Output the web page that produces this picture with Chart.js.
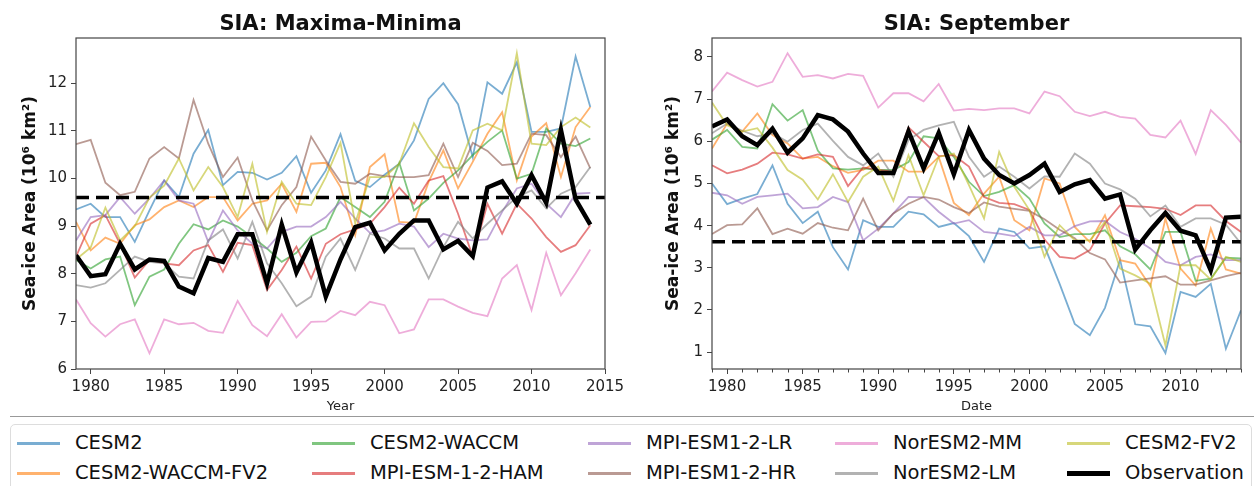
<!DOCTYPE html>
<html>
<head>
<meta charset="utf-8">
<script src="https://cdn.jsdelivr.net/npm/chart.js@4.4.1/dist/chart.umd.min.js"></script>
<style>
  body { margin: 0; background: #fff; font-family: "DejaVu Sans", sans-serif; }
  #wrap { position: relative; width: 1254px; height: 486px; overflow: hidden; }
  canvas { position: absolute; top: 0; }
  .title { position: absolute; top: 10px; font-weight: bold; font-size: 21px; line-height: 26px; text-align: center; color: #111; }
  #sep { position: absolute; left: 10px; right: 0; top: 416px; border-top: 1px solid #999; }
  #legend { position: absolute; left: 10px; top: 424px; width: 1240px; height: 80px; border: 1px solid #ddd; border-radius: 5px; }
  .item { position: absolute; font-size: 19.5px; line-height: 24px; color: #111; white-space: nowrap; }
  .swatch { position: absolute; width: 43px; }
</style>
</head>
<body>
<div id="wrap">
  <canvas id="chart-maxmin" width="630" height="416" style="left:0"></canvas>
  <canvas id="chart-sep" width="624" height="416" style="left:630px"></canvas>
  <div class="title" style="left:76px;width:529px">SIA: Maxima-Minima</div>
  <div class="title" style="left:712px;width:529px">SIA: September</div>
  <div id="sep"></div>
  <div id="legend"></div>
</div>
<script>
const years = [];
for (let y = 1979; y <= 2014; y++) years.push(y);

const modelNames = ["CESM2", "CESM2-WACCM-FV2", "CESM2-WACCM", "MPI-ESM-1-2-HAM", "MPI-ESM1-2-LR",
  "MPI-ESM1-2-HR", "NorESM2-MM", "NorESM2-LM", "CESM2-FV2"];
const modelColors = ["rgba(31,119,180,0.6)", "rgba(255,127,14,0.6)", "rgba(44,160,44,0.6)",
  "rgba(214,39,40,0.6)", "rgba(148,103,189,0.6)", "rgba(140,86,75,0.6)",
  "rgba(227,119,194,0.6)", "rgba(127,127,127,0.6)", "rgba(188,189,34,0.6)"];

// maxima - minima (10^6 km2)
const cesm2MaxMin = [9.35,9.47,9.19,9.19,8.67,9.33,9.96,9.61,10.52,11.02, 9.86,10.14,10.12,9.98,10.12,10.47,9.70,10.17,10.93,9.95, 9.82,10.08,10.31,10.80,11.67,12.00,11.56,10.45,12.02,11.78, 12.44,10.98,10.98,11.05,12.56,11.50];
const waccmFv2MaxMin = [9.09,8.49,8.76,8.63,9.02,9.14,9.40,9.54,9.40,9.61, 9.61,9.12,9.47,9.54,9.89,9.30,10.31,10.33,9.82,8.81, 10.24,10.51,9.09,9.07,9.93,10.59,9.79,10.35,10.94,11.39, 9.96,10.88,11.16,10.03,11.08,11.50];
const waccmMaxMin = [8.29,8.11,8.30,8.36,7.34,7.94,8.09,8.63,9.04,8.93, 9.12,8.99,8.77,8.53,8.25,8.44,8.79,8.95,9.61,9.40, 9.19,9.51,10.33,9.33,9.58,9.91,10.17,10.49,10.77,11.01, 10.00,10.10,11.05,10.73,10.68,10.84];
const hamMaxMin = [8.36,9.05,9.23,8.63,7.92,8.29,8.22,8.18,8.49,8.60, 8.04,8.65,8.60,7.66,8.08,8.57,7.90,8.63,8.83,8.93, 9.05,9.40,9.81,9.47,9.96,10.05,9.26,8.36,9.47,8.84, 9.47,9.16,8.77,8.46,8.60,9.02];
const lrMaxMin = [8.70,9.19,9.23,9.61,9.26,9.58,9.96,9.54,9.47,8.67, 9.33,8.91,8.63,8.53,8.88,8.99,8.99,9.19,9.51,9.16, 8.86,8.91,9.05,8.99,8.56,8.84,8.74,8.70,8.72,9.30, 9.79,9.89,9.47,9.19,9.68,9.70];
const hrMaxMin = [10.72,10.81,9.91,9.65,9.72,10.42,10.66,10.42,11.65,10.73, 10.03,10.44,9.54,8.91,9.44,9.82,10.88,10.38,9.93,9.89, 10.10,10.05,10.03,10.03,10.07,10.73,10.03,10.75,10.58,10.28, 10.31,10.94,10.91,10.45,10.88,10.21];
const norMmMaxMin = [7.46,6.96,6.68,6.94,7.04,6.33,7.04,6.94,6.97,6.80, 6.76,7.43,6.92,6.69,7.15,6.66,6.99,7.00,7.22,7.13, 7.41,7.34,6.75,6.83,7.46,7.46,7.31,7.18,7.11,7.90, 8.18,7.24,8.44,7.55,8.01,8.51];
const norLmMaxMin = [7.76,7.71,7.80,8.08,8.36,8.25,8.22,7.94,7.90,8.70, 8.93,8.32,9.09,8.22,7.80,7.32,7.52,8.36,8.74,8.08, 8.84,8.74,8.53,8.53,7.90,8.56,9.09,8.74,9.05,9.33, 9.61,9.75,9.37,9.68,9.82,10.24];
const fv2MaxMin = [8.30,8.55,9.39,8.70,9.00,9.60,9.85,10.42,9.75,10.24, 9.82,9.19,10.31,8.88,9.93,9.47,9.44,10.03,10.75,9.06, 10.03,10.03,10.31,11.16,10.66,10.24,10.21,11.01,11.15,11.01, 12.63,10.73,10.70,11.08,11.28,11.07];
const obsMaxMin = [8.39,7.95,7.99,8.63,8.09,8.30,8.27,7.73,7.59,8.33, 8.25,8.83,8.83,7.80,9.03,8.03,8.66,7.52,8.30,8.98, 9.07,8.49,8.84,9.12,9.12,8.51,8.69,8.37,9.81,9.94, 9.47,10.07,9.49,11.02,9.56,9.03];
const obsMeanMaxMin = 9.6;

// September (10^6 km2)
const cesm2Sep = [5.00,4.51,4.64,4.75,5.43,4.52,4.06,4.33,3.49,2.96, 4.13,3.97,3.97,4.33,4.27,3.97,4.06,3.75,3.14,3.93, 3.85,3.46,3.51,2.62,1.67,1.40,2.05,3.19,1.66,1.61, 0.98,2.43,2.31,2.62,1.08,1.99];
const waccmFv2Sep = [5.83,6.42,6.23,6.66,6.15,5.95,5.59,5.63,5.41,5.25, 5.32,5.54,5.54,5.28,5.28,5.63,4.54,4.25,4.76,5.16, 4.13,3.89,5.12,5.00,3.97,3.61,4.25,3.18,3.10,2.56, 4.17,2.98,2.58,3.93,2.96,2.86];
const waccmSep = [6.04,6.27,5.87,5.83,6.88,6.49,6.74,5.78,5.36,5.33, 5.36,5.32,5.32,5.51,6.12,6.07,5.63,5.04,4.70,4.80, 4.96,4.64,4.05,3.73,3.80,3.80,3.89,3.51,3.32,2.96, 3.85,3.85,2.69,2.74,3.24,3.22];
const hamSep = [5.43,5.24,5.33,5.47,5.73,5.69,5.59,5.69,5.63,4.94, 5.38,5.32,5.28,6.33,5.99,5.65,5.67,5.40,4.68,4.54, 4.51,4.37,3.67,3.26,3.22,3.42,4.05,4.48,4.46,4.44, 4.40,4.25,4.48,4.48,4.11,3.85];
const lrSep = [4.78,4.72,4.52,4.68,4.72,4.76,4.41,4.44,4.68,4.56, 3.65,3.93,4.29,4.68,4.67,4.33,4.05,4.13,3.85,3.81, 3.75,3.97,3.77,3.77,3.99,4.10,4.11,3.85,3.69,3.46, 3.14,3.06,3.26,3.32,3.18,3.18];
const hrSep = [3.80,4.01,4.03,4.41,3.80,3.93,3.81,4.06,3.95,3.89, 4.64,3.89,4.29,4.52,4.68,4.62,4.44,4.30,4.55,4.45, 4.40,4.35,4.15,3.90,3.70,3.35,3.20,2.65,2.70,2.75, 2.80,2.60,2.60,2.70,2.80,2.88];
const norMmSep = [7.18,7.63,7.45,7.30,7.41,8.09,7.53,7.57,7.49,7.60, 7.55,6.80,7.14,7.14,6.95,7.36,6.73,6.77,6.74,6.78, 6.78,6.66,7.18,7.07,6.70,6.60,6.70,6.58,6.54,6.15, 6.09,6.49,5.70,6.74,6.39,5.97];
const norLmSep = [6.19,6.42,6.25,6.12,6.19,5.99,6.27,6.42,6.01,5.63, 5.43,5.71,5.16,6.03,6.27,6.38,6.46,5.63,5.16,5.40, 5.16,4.88,5.17,5.16,5.71,5.47,5.00,4.86,4.64,4.22, 4.48,3.97,4.17,4.17,4.02,3.57];
const fv2Sep = [6.92,6.38,6.23,6.31,5.85,5.32,5.09,4.62,5.22,4.56, 5.16,5.40,4.59,5.67,4.72,5.63,5.71,4.96,4.17,5.75, 4.92,4.37,3.26,4.01,3.65,3.65,4.09,2.98,2.82,2.62, 1.16,3.06,3.06,2.72,3.26,3.14];
const obsSep = [6.35,6.52,6.12,5.91,6.30,5.73,6.07,6.62,6.52,6.23, 5.71,5.25,5.25,6.24,5.36,6.20,5.22,6.27,5.59,5.20, 5.00,5.20,5.47,4.80,4.98,5.08,4.64,4.74,3.43,3.89, 4.30,3.88,3.77,2.94,4.19,4.21];
const obsMeanSep = 3.62;

const maxMinTicksX = [1980, 1985, 1990, 1995, 2000, 2005, 2010, 2015];
const sepTicksX = [1980, 1985, 1990, 1995, 2000, 2005, 2010];
const maxMinTicksY = [6, 7, 8, 9, 10, 11, 12];
const sepTicksY = [1, 2, 3, 4, 5, 6, 7, 8];

const yTitle = "Sea-ice Area (10\u2076 km\u00b2)";
const tickFont = { family: "DejaVu Sans", size: 15 };

// frame around plot + optional minor ticks
const framePlugin = {
  id: "frame",
  afterDraw(chart, args, opts) {
    const { ctx, chartArea: a } = chart;
    ctx.save();
    ctx.strokeStyle = "#444";
    ctx.lineWidth = 1.2;
    ctx.strokeRect(a.left, a.top, a.right - a.left, a.bottom - a.top);
    if (opts.minor) {
      const xs = chart.scales.x;
      ctx.beginPath();
      for (const yr of years) {
        if (yr % 5 === 0) continue;
        const px = Math.round(xs.getPixelForValue(yr)) + 0.5;
        ctx.moveTo(px, a.bottom);
        ctx.lineTo(px, a.bottom + 3.5);
      }
      ctx.lineWidth = 1;
      ctx.stroke();
    }
    ctx.restore();
  },
};

function makeChart(el, cfg) {
  const datasets = modelNames.map((name, i) => ({
    label: name,
    data: cfg.models[i],
    borderColor: modelColors[i],
    borderWidth: 1.8,
    pointRadius: 0,
    tension: 0,
    order: 20 - i,
  }));
  datasets.push({
    label: "Observation",
    data: cfg.obs,
    borderColor: "#000",
    borderWidth: 4.5,
    pointRadius: 0,
    tension: 0,
    order: 1,
  });
  datasets.push({
    label: "mean",
    data: [{ x: cfg.xMin, y: cfg.mean }, { x: cfg.xMax, y: cfg.mean }],
    borderColor: "#000",
    borderWidth: 3.5,
    borderDash: [13, 7],
    pointRadius: 0,
    order: 0,
  });

  return new Chart(el, {
    type: "line",
    data: { labels: years, datasets },
    plugins: [framePlugin],
    options: {
      responsive: false,
      animation: false,
      devicePixelRatio: 1,
      layout: { padding: cfg.padding },
      plugins: { legend: { display: false }, tooltip: { enabled: false }, frame: { minor: cfg.minor } },
      scales: {
        x: {
          type: "linear",
          min: cfg.xMin,
          max: cfg.xMax,
          afterBuildTicks: (s) => { s.ticks = cfg.ticksX.map((v) => ({ value: v })); },
          afterFit: (s) => { s.height = 47; },
          grid: { drawOnChartArea: false, tickLength: 5, color: "#444" },
          border: { display: false },
          ticks: { font: tickFont, color: "#222", padding: 4, maxRotation: 0, callback: (v) => String(v) },
          title: { display: true, text: cfg.xTitle, font: { family: "DejaVu Sans", size: 13 }, color: "#222", padding: { top: 0, bottom: 2 } },
        },
        y: {
          min: cfg.yMin,
          max: cfg.yMax,
          afterBuildTicks: (s) => { s.ticks = cfg.ticksY.map((v) => ({ value: v })); },
          afterFit: (s) => { s.width = cfg.yWidth; },
          grid: { drawOnChartArea: false, tickLength: 5, color: "#444" },
          border: { display: false },
          ticks: { font: tickFont, color: "#222", padding: 4 },
          title: { display: true, text: yTitle, font: { family: "DejaVu Sans", size: 17, weight: "bold" }, color: "#111", padding: { top: cfg.yTitlePad, bottom: 0 } },
        },
      },
    },
  });
}

function buildLegend() {
  const box = document.getElementById("legend");
  const names = modelNames.concat(["Observation"]);
  const colors = modelColors.concat(["#000"]);
  const colX = [6, 301, 577, 824, 1056];
  const rowY = [6, 36];
  names.forEach((name, i) => {
    const col = Math.floor(i / 2), row = i % 2;
    const item = document.createElement("div");
    item.className = "item";
    item.style.left = colX[col] + "px";
    item.style.top = rowY[row] + "px";
    const sw = document.createElement("div");
    sw.className = "swatch";
    const lw = name === "Observation" ? 5 : 3;
    sw.style.cssText = "left:0;top:" + (12 - lw / 2) + "px;height:" + lw + "px;background:" + colors[i];
    const tx = document.createElement("span");
    tx.textContent = name;
    tx.style.marginLeft = "58px";
    item.appendChild(sw);
    item.appendChild(tx);
    box.appendChild(item);
  });
}

function run() {
  if (typeof Chart === "undefined") return;
  makeChart(document.getElementById("chart-maxmin"), {
    models: [cesm2MaxMin, waccmFv2MaxMin, waccmMaxMin, hamMaxMin, lrMaxMin, hrMaxMin, norMmMaxMin, norLmMaxMin, fv2MaxMin],
    obs: obsMaxMin, mean: obsMeanMaxMin,
    xMin: 1979, xMax: 2015, yMin: 6, yMax: 12.95,
    ticksX: maxMinTicksX, ticksY: maxMinTicksY,
    xTitle: "Year", yWidth: 76, yTitlePad: 20, minor: false,
    padding: { top: 38, right: 25, left: 0, bottom: 0 },
  });
  makeChart(document.getElementById("chart-sep"), {
    models: [cesm2Sep, waccmFv2Sep, waccmSep, hamSep, lrSep, hrSep, norMmSep, norLmSep, fv2Sep],
    obs: obsSep, mean: obsMeanSep,
    xMin: 1979, xMax: 2014, yMin: 0.6, yMax: 8.45,
    ticksX: sepTicksX, ticksY: sepTicksY,
    xTitle: "Date", yWidth: 82, yTitlePad: 33, minor: true,
    padding: { top: 38, right: 13, left: 0, bottom: 0 },
  });
  buildLegend();
}

if (document.readyState === "loading") {
  document.addEventListener("DOMContentLoaded", run);
} else {
  run();
}
</script>
</body>
</html>
